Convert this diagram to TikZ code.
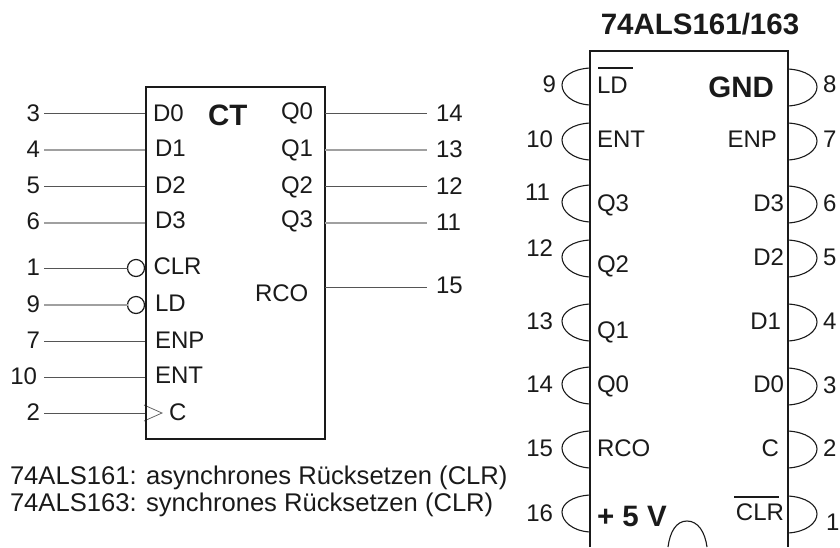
\documentclass[tikz,border=0pt]{standalone}
\usepackage{fontspec}
\setmainfont{Liberation Sans}
\definecolor{ink}{HTML}{1A1A1A}
\definecolor{wire}{HTML}{555555}
\definecolor{wirelight}{HTML}{A0A0A0}
\tikzset{
 x=1pt,y=-1pt,
 every node/.style={inner sep=0pt,outer sep=0pt,text=ink},
 txt/.style={font=\fontsize{24}{24}\selectfont,anchor=base},
 txtl/.style={txt,anchor=base west},
 txtr/.style={txt,anchor=base east},
 note/.style={font=\fontsize{25.6}{25.6}\selectfont,anchor=base west},
 bold/.style={font=\fontsize{29.5}{29.5}\selectfont\bfseries},
 wireline/.style={draw=wire,line width=1pt},
 wirepale/.style={draw=wirelight,line width=1.4pt},
 boxline/.style={draw=ink,line width=1.6pt},
 pinline/.style={draw=ink,line width=1.1pt},
}
\newcommand{\lpin}[2]{\coordinate (L#1a) at (590,#2); \coordinate (L#1b) at (590,#2+37);
 \draw[pinline] (L#1a) .. controls (572,#2+1) and (562,#2+9) .. (562,#2+17) .. controls (562,#2+26) and (572,#2+36) .. (L#1b);}
\newcommand{\rpin}[2]{\coordinate (R#1a) at (788,#2); \coordinate (R#1b) at (788,#2+37);
 \draw[pinline] (R#1a) .. controls (806,#2+1) and (817,#2+9) .. (817,#2+18) .. controls (817,#2+27) and (806,#2+36) .. (R#1b);}
\begin{document}
\begin{tikzpicture}
\useasboundingbox (0,0) rectangle (840,547);
\clip (0,0) rectangle (840,547);
% left symbol
\coordinate (bTL) at (146,87); \coordinate (bBR) at (325,439);
\foreach \n/\lab/\y/\b/\st/\rx in {a/3/113/121/wireline/40,b/4/150/157/wirepale/40,c/5/186.5/193/wireline/40,d/6/223/229/wirepale/40,e/7/341/348/wireline/40,f/10/377/384/wireline/37,g/2/413/420/wireline/40}{
  \node[txtr] (n\n) at (\rx,\b) {\lab};
  \coordinate (w\n) at (44,\y);
  \coordinate (p\n) at (146,\y);
  \draw[\st] (w\n) -- (p\n);
}
\node[txtr] (nh) at (40,275) {1}; \coordinate (wh) at (44,268);
\node[txtr] (ni) at (40,312) {9}; \coordinate (wi) at (44,305);
\node[circle,draw=ink,line width=1.2pt,minimum size=17pt] (ch) at (136,268) {};
\node[circle,draw=ink,line width=1.2pt,minimum size=17pt] (ci) at (136,305) {};
\draw[wireline] (wh) -- (ch);
\draw[wirepale] (wi) -- (ci);
\coordinate (t1) at (144,405); \coordinate (t2) at (162,413); \coordinate (t3) at (144,421);
\draw[draw=wire,line width=.7pt] (t1) -- (t2) -- (t3);
\draw[boxline] (bTL) rectangle (bBR);
\foreach \t/\x/\b in {D0/153/121,D1/155/156,D2/155/193,D3/155/228,CLR/153.5/274,LD/155/311,ENP/155/348,ENT/155/383}{
  \node[txtl] at (\x,\b) {\t};
}
\node[txtl] at (169,420) {C};
\node[txtl,bold] (ct) at (208,125) {CT};
\foreach \t/\b in {Q0/119,Q1/156,Q2/193,Q3/227}{ \node[txtl] at (281,\b) {\t}; }
\node[txtl] at (255,301) {RCO};
\foreach \n/\lab/\y/\b/\st in {q/14/113/121/wireline,r/13/150/157/wirepale,s/12/186.5/194/wireline,t/11/223/230/wirepale,u/15/287/293/wireline}{
  \coordinate (o\n) at (325,\y);
  \coordinate (e\n) at (427,\y);
  \node[txtl] (l\n) at (436,\b) {\lab};
  \draw[\st] (o\n) -- (e\n);
}
\node[note] at (10,484) {74ALS161: asynchrones Rücksetzen (CLR)};
\node[note] at (10,511) {74ALS163: synchrones Rücksetzen (CLR)};
% right IC
\node[bold,anchor=base] (title) at (700,34) {74ALS161/163};
\coordinate (a) at (590,547); \coordinate (b) at (590,51); \coordinate (c) at (788,51); \coordinate (d) at (788,547);
\draw[boxline] (a) -- (b) -- (c) -- (d);
\coordinate (nl) at (668,547); \coordinate (nr) at (707,547);
\draw[pinline] (nl) .. controls (670,532) and (676,521) .. (687,521) .. controls (698,521) and (705,532) .. (nr);
\lpin{9}{68}\lpin{10}{123}\lpin{11}{185}\lpin{12}{240}\lpin{13}{304}\lpin{14}{367}\lpin{15}{431}\lpin{16}{495}
\rpin{8}{69}\rpin{7}{123}\rpin{6}{186}\rpin{5}{240}\rpin{4}{304}\rpin{3}{368}\rpin{2}{431}\rpin{1}{496}
\foreach \lab/\b/\rx in {9/92/556,10/147/553,11/200/550,12/256/553,13/329/553,14/392/553,15/456/553,16/521/553}{ \node[txtr] at (\rx,\b) {\lab}; }
\foreach \lab/\b/\xx in {8/92/823,7/147/823,6/211/823,5/265/823,4/329/823,3/393/823,2/456/823,1/530/826}{ \node[txtl] at (\xx,\b) {\lab}; }
\foreach \t/\b in {ENT/147,Q3/211,Q2/272,Q1/338,Q0/392,RCO/456}{ \node[txtl] at (597,\b) {\t}; }
\node[txtl] (ld) at (597,93) {LD};
\draw[draw=ink,line width=1.1pt] (598,68) -- (633,68);
\node[txtl,bold] at (597,526) {+ 5 V};
\node[txtr,bold] at (774,97) {GND};
\foreach \t/\b/\xx in {ENP/147/777,D3/211/784,D2/265/784,D1/329/781,D0/392/784,C/456/779}{ \node[txtr] at (\xx,\b) {\t}; }
\node[txtr] (clr) at (784,520) {CLR};
\draw[draw=ink,line width=1.1pt] (734,497) -- (779,497);
\end{tikzpicture}
\end{document}
